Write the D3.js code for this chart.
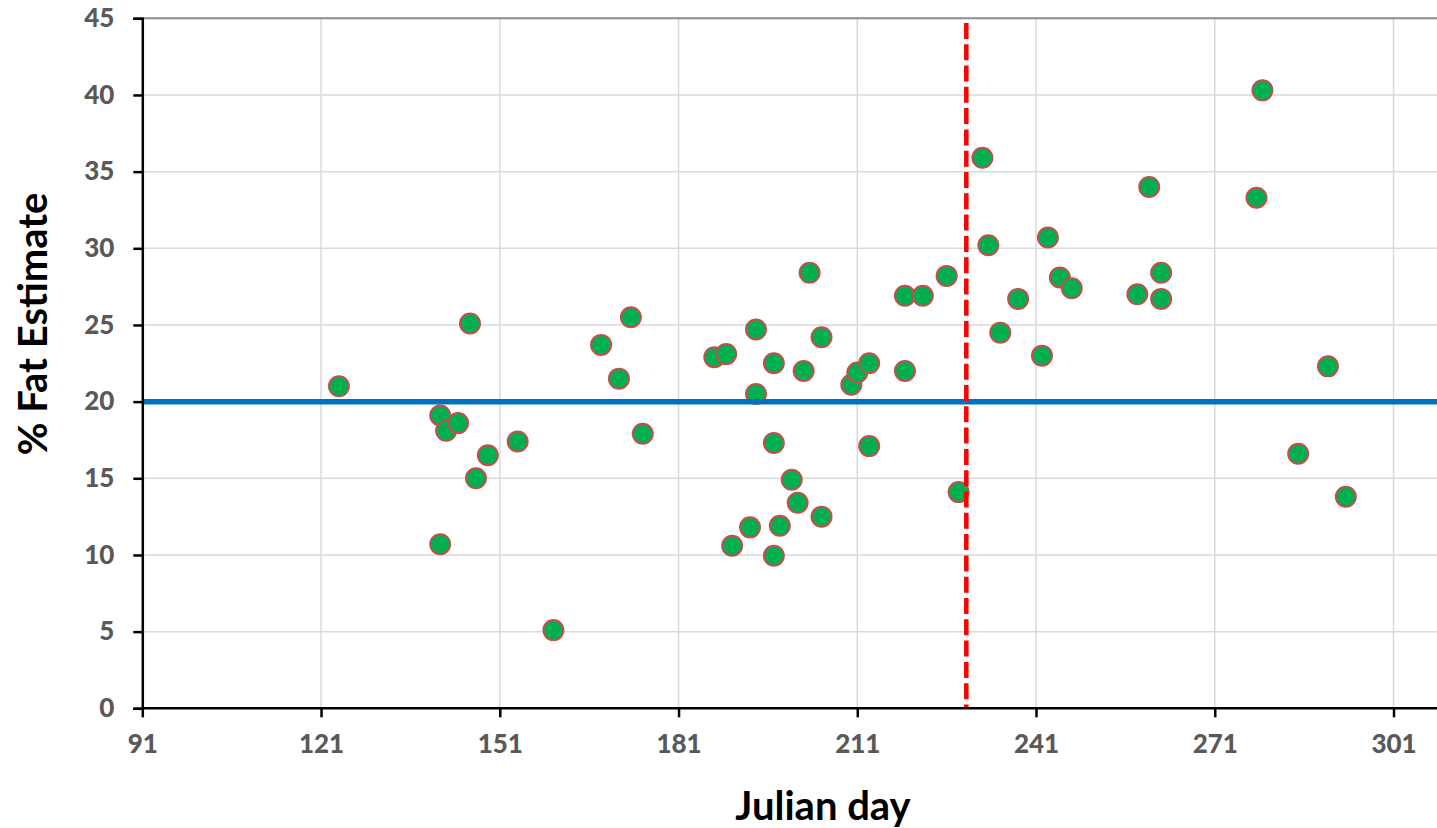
<!DOCTYPE html>
<html>
<head>
<meta charset="utf-8">
<script src="https://cdn.jsdelivr.net/npm/d3@7"></script>
<style>
  body { margin: 0; background: #fff; }
  #chart text { font-family: Lato, "Open Sans", sans-serif; font-weight: bold; }
</style>
</head>
<body>
<div id="chart"></div>
<script>
'use strict';

// julian day of each sample and its fat estimate (%)
var julianDays = [124, 141, 142, 144, 146, 141, 147, 149, 154, 160, 168, 171, 173, 175,
  187, 189, 194, 194, 197, 197, 203, 202, 205, 200, 201, 205, 193, 198, 190, 197,
  210, 211, 213, 213, 219, 222, 226, 219, 228,
  279, 232, 260, 278, 233, 243, 245, 247, 262, 258, 262, 238, 235, 242, 290, 285, 293];
var fatEstimates = [21.0, 19.1, 18.1, 18.6, 25.1, 10.7, 15.0, 16.5, 17.4, 5.1, 23.7, 21.5, 25.5, 17.9,
  22.9, 23.1, 24.7, 20.5, 22.5, 17.3, 28.4, 22.0, 24.2, 14.9, 13.4, 12.5, 11.8, 11.9, 10.6, 9.95,
  21.1, 21.9, 22.5, 17.1, 26.9, 26.9, 28.2, 22.0, 14.1,
  40.3, 35.9, 34.0, 33.3, 30.2, 30.7, 28.1, 27.4, 28.4, 27.0, 26.7, 26.7, 24.5, 23.0, 22.3, 16.6, 13.8];

var xTicks = [91, 121, 151, 181, 211, 241, 271, 301];
var yTicks = [0, 5, 10, 15, 20, 25, 30, 35, 40, 45];

var meanFat = 20;      // horizontal reference line
var cutoffDay = 229.3; // vertical dashed line

var width = 1437, height = 828;
var margin = {top: 18.3, right: 0, bottom: 119.7, left: 142.3};

var x = d3.scaleLinear().domain([91, 308.3]).range([margin.left, width - margin.right]);
var y = d3.scaleLinear().domain([0, 45]).range([height - margin.bottom, margin.top]);

var svg = d3.select('#chart').append('svg')
  .attr('width', width)
  .attr('height', height);

// gridlines
svg.append('g')
  .selectAll('line')
  .data(yTicks.filter(function(d) { return d > 0 && d < 45; }))
  .enter().append('line')
  .attr('x1', x(91)).attr('x2', width)
  .attr('y1', function(d) { return y(d); })
  .attr('y2', function(d) { return y(d); })
  .attr('stroke', '#d9d9d9')
  .attr('stroke-width', 1.5);

svg.append('g')
  .selectAll('line')
  .data(xTicks.slice(1))
  .enter().append('line')
  .attr('x1', function(d) { return x(d); })
  .attr('x2', function(d) { return x(d); })
  .attr('y1', y(45)).attr('y2', y(0))
  .attr('stroke', '#d9d9d9')
  .attr('stroke-width', 1.5);

// top border of plot area
svg.append('line')
  .attr('x1', x(91)).attr('x2', width)
  .attr('y1', y(45)).attr('y2', y(45))
  .attr('stroke', '#8c8c8c')
  .attr('stroke-width', 2);

// points
svg.append('g')
  .selectAll('circle')
  .data(d3.range(julianDays.length))
  .enter().append('circle')
  .attr('cx', function(i) { return x(julianDays[i]); })
  .attr('cy', function(i) { return y(fatEstimates[i]); })
  .attr('r', 10)
  .attr('fill', '#00b050')
  .attr('stroke', '#c0504d')
  .attr('stroke-width', 2);

// reference lines
svg.append('line')
  .attr('x1', x(91)).attr('x2', width)
  .attr('y1', y(meanFat)).attr('y2', y(meanFat))
  .attr('stroke', '#0070c0')
  .attr('stroke-width', 5.5);

svg.append('line')
  .attr('x1', x(cutoffDay)).attr('x2', x(cutoffDay))
  .attr('y1', y(44.7)).attr('y2', y(0))
  .attr('stroke', '#ff0000')
  .attr('stroke-width', 4.5)
  .attr('stroke-dasharray', '16,5.3');

// axes
var xAxis = svg.append('g')
  .attr('transform', 'translate(0,' + y(0) + ')')
  .call(d3.axisBottom(x).tickValues(xTicks).tickSize(9).tickPadding(17).tickFormat(d3.format('d')));

var yAxis = svg.append('g')
  .attr('transform', 'translate(' + x(91) + ',0)')
  .call(d3.axisLeft(y).tickValues(yTicks).tickSize(9).tickPadding(19));

[xAxis, yAxis].forEach(function(g) {
  g.select('.domain').attr('stroke', '#000').attr('stroke-width', 2.5);
  g.selectAll('.tick line').attr('stroke', '#000').attr('stroke-width', 2.5);
  g.selectAll('.tick text')
    .attr('fill', '#595959')
    .style('font-size', '26px')
    .style('font-weight', '900');
});
xAxis.select('.domain').attr('d', 'M' + x(91) + ',0H' + width);

// axis titles
svg.append('text')
  .attr('x', 823)
  .attr('y', 820)
  .attr('text-anchor', 'middle')
  .style('font-size', '40px')
  .attr('fill', '#000')
  .text('Julian day');

svg.append('text')
  .attr('transform', 'translate(47,324) rotate(-90)')
  .attr('text-anchor', 'middle')
  .style('font-size', '40px')
  .attr('fill', '#000')
  .text('% Fat Estimate');
</script>
</body>
</html>
